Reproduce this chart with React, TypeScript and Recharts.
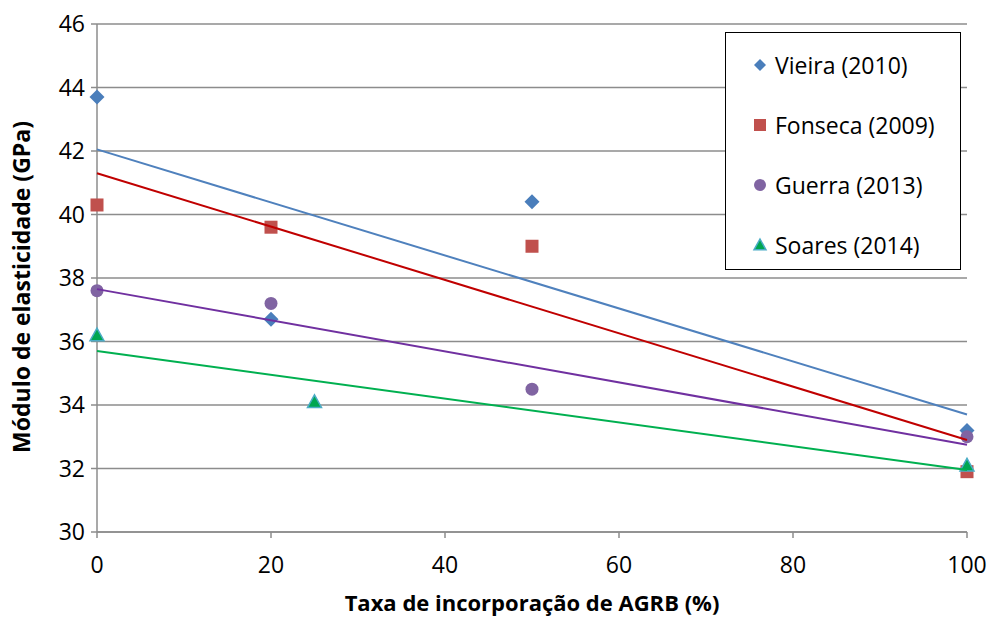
import { ScatterChart, Scatter, XAxis, YAxis, CartesianGrid } from "recharts";

const FONT = "'Open Sans', sans-serif";

// pontos medidos
const vieiraX = [0, 20, 50, 100];
const vieiraY = [43.7, 36.7, 40.4, 33.2];
const fonsecaX = [0, 20, 50, 100];
const fonsecaY = [40.3, 39.6, 39.0, 31.9];
const guerraX = [0, 20, 50, 100];
const guerraY = [37.6, 37.2, 34.5, 33.0];
const soaresX = [0, 25, 100];
const soaresY = [36.2, 34.1, 32.1];

const trendX = [0, 100];
const vieiraTrend = [42.05, 33.7];
const fonsecaTrend = [41.3, 32.9];
const guerraTrend = [37.65, 32.75];
const soaresTrend = [35.7, 31.95];

const xTicks = [0, 20, 40, 60, 80, 100];
const yTicks = [30, 32, 34, 36, 38, 40, 42, 44, 46];

const zip = (xs: number[], ys: number[]) => xs.map((x, i) => ({ x, y: ys[i] }));

if (typeof document !== "undefined") {
  document.body.style.margin = "0";
  document.documentElement.style.overflow = "hidden";
}

const Diamond = ({ cx, cy, half = 7.5 }: any) => (
  <polygon
    points={`${cx},${cy - half} ${cx + half},${cy} ${cx},${cy + half} ${cx - half},${cy}`}
    fill="#4a7ebb"
  />
);
const Square = ({ cx, cy, half = 6.5 }: any) => (
  <rect x={cx - half} y={cy - half} width={half * 2} height={half * 2} fill="#c0504d" />
);
const Circle = ({ cx, cy, half = 6.5 }: any) => <circle cx={cx} cy={cy} r={half} fill="#8064a2" />;
const Triangle = ({ cx, cy, half = 7 }: any) => (
  <polygon
    points={`${cx},${cy - half} ${cx + half},${cy + half * 0.8} ${cx - half},${cy + half * 0.8}`}
    fill="#00a651"
    stroke="#4bacc6"
    strokeWidth={1.5}
  />
);
const NoDot = () => <g />;

const legendItems = [
  { label: "Vieira (2010)", Shape: Diamond },
  { label: "Fonseca (2009)", Shape: Square },
  { label: "Guerra (2013)", Shape: Circle },
  { label: "Soares (2014)", Shape: Triangle },
];

function LegendBox() {
  return (
    <div
      style={{
        position: "absolute",
        left: 725,
        top: 32,
        boxSizing: "border-box",
        width: 236,
        height: 238,
        border: "1.5px solid #000",
        background: "#fff",
        padding: "2px 0 0 24px",
        fontFamily: FONT,
        fontSize: 23,
        color: "#000",
      }}
    >
      {legendItems.map(({ label, Shape }) => (
        <div key={label} style={{ display: "flex", alignItems: "center", height: 60 }}>
          <svg width={20} height={20} style={{ marginRight: 5 }}>
            <Shape cx={10} cy={10} half={6} />
          </svg>
          <span>{label}</span>
        </div>
      ))}
    </div>
  );
}

export default function App() {
  const tick = { fill: "#000", fontSize: 23, fontFamily: FONT };
  const title = { fill: "#000", fontWeight: 700, fontFamily: FONT };
  return (
    <div style={{ width: 989, height: 619, background: "#fff", position: "relative", overflow: "hidden" }}>
      <ScatterChart width={989} height={619} margin={{ top: 24, right: 22, bottom: 0, left: 0 }} style={{ overflow: "visible" }}>
        <CartesianGrid vertical={false} stroke="#8c8c8c" strokeWidth={1.5} />
        <XAxis
          type="number"
          dataKey="x"
          domain={[0, 100]}
          ticks={xTicks}
          height={87}
          stroke="#8c8c8c"
          strokeWidth={1.5}
          tickSize={6}
          tickMargin={19}
          tick={tick}
          label={{
            value: "Taxa de incorporação de AGRB (%)",
            position: "insideBottom",
            offset: 4,
            dy: -4,
            style: { ...title, fontSize: 22 },
          }}
        />
        <YAxis
          type="number"
          dataKey="y"
          domain={[30, 46]}
          ticks={yTicks}
          width={97}
          stroke="#8c8c8c"
          strokeWidth={1.5}
          tickSize={6}
          tickMargin={6}
          tick={tick}
          label={{
            value: "Módulo de elasticidade (GPa)",
            angle: -90,
            position: "insideLeft",
            offset: 22,
            dy: 9,
            style: { ...title, fontSize: 23, textAnchor: "middle" },
          }}
        />
        <Scatter name="Vieira (2010)" data={zip(vieiraX, vieiraY)} shape={(p: any) => <Diamond cx={p.cx} cy={p.cy} />} isAnimationActive={false} />
        <Scatter name="Fonseca (2009)" data={zip(fonsecaX, fonsecaY)} shape={(p: any) => <Square cx={p.cx} cy={p.cy} />} isAnimationActive={false} />
        <Scatter name="Guerra (2013)" data={zip(guerraX, guerraY)} shape={(p: any) => <Circle cx={p.cx} cy={p.cy} />} isAnimationActive={false} />
        <Scatter name="Soares (2014)" data={zip(soaresX, soaresY)} shape={(p: any) => <Triangle cx={p.cx} cy={p.cy} />} isAnimationActive={false} />
        <Scatter data={zip(trendX, vieiraTrend)} line={{ stroke: "#4f81bd", strokeWidth: 2 }} shape={NoDot} isAnimationActive={false} />
        <Scatter data={zip(trendX, fonsecaTrend)} line={{ stroke: "#c00000", strokeWidth: 2 }} shape={NoDot} isAnimationActive={false} />
        <Scatter data={zip(trendX, guerraTrend)} line={{ stroke: "#7030a0", strokeWidth: 2 }} shape={NoDot} isAnimationActive={false} />
        <Scatter data={zip(trendX, soaresTrend)} line={{ stroke: "#00b050", strokeWidth: 2 }} shape={NoDot} isAnimationActive={false} />
      </ScatterChart>
      <LegendBox />
    </div>
  );
}
